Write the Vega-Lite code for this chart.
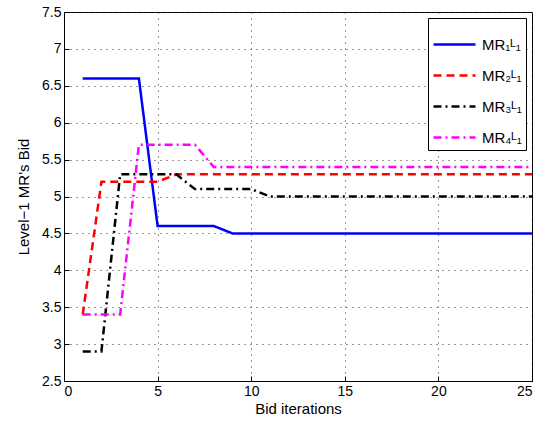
{
  "$schema": "https://vega.github.io/schema/vega-lite/v6.json",
  "width": 468,
  "height": 369,
  "autosize": {"type": "none"},
  "padding": {"left": 64, "top": 12, "right": 14, "bottom": 40},
  "background": "white",
  "config": {
    "font": "Liberation Sans",
    "view": {"stroke": "black", "strokeWidth": 1},
    "axis": {
      "labelFont": "Liberation Sans",
      "titleFont": "Liberation Sans",
      "labelFontSize": 14,
      "titleFontSize": 15,
      "labelColor": "black",
      "titleColor": "black",
      "titleFontWeight": "normal",
      "domainColor": "black",
      "tickColor": "black",
      "tickSize": -5,
      "labelPadding": 8,
      "grid": true,
      "gridColor": "#333",
      "gridDash": [1, 5],
      "gridWidth": 1
    },
    "legend": {
      "strokeColor": "black", "fillColor": "white", "padding": 4,
      "symbolType": "stroke", "symbolSize": 1764, "symbolStrokeWidth": 2.5,
      "labelFontSize": 15, "labelFont": "Liberation Sans", "labelColor": "black",
      "rowPadding": -4, "labelOffset": 5, "cornerRadius": 0, "offset": 6
    }
  },
  "data": {
    "values": [
      {"x": 1, "y": 6.6, "s": "MR₁ᴸ₁"}, {"x": 2, "y": 6.6, "s": "MR₁ᴸ₁"}, {"x": 3, "y": 6.6, "s": "MR₁ᴸ₁"}, {"x": 4, "y": 6.6, "s": "MR₁ᴸ₁"},
      {"x": 5, "y": 4.6, "s": "MR₁ᴸ₁"}, {"x": 6, "y": 4.6, "s": "MR₁ᴸ₁"}, {"x": 7, "y": 4.6, "s": "MR₁ᴸ₁"}, {"x": 8, "y": 4.6, "s": "MR₁ᴸ₁"},
      {"x": 9, "y": 4.5, "s": "MR₁ᴸ₁"}, {"x": 25, "y": 4.5, "s": "MR₁ᴸ₁"},
      {"x": 1, "y": 3.4, "s": "MR₂ᴸ₁"}, {"x": 2, "y": 5.2, "s": "MR₂ᴸ₁"}, {"x": 3, "y": 5.2, "s": "MR₂ᴸ₁"}, {"x": 4, "y": 5.2, "s": "MR₂ᴸ₁"},
      {"x": 5, "y": 5.2, "s": "MR₂ᴸ₁"}, {"x": 6, "y": 5.3, "s": "MR₂ᴸ₁"}, {"x": 25, "y": 5.3, "s": "MR₂ᴸ₁"},
      {"x": 1, "y": 2.9, "s": "MR₃ᴸ₁"}, {"x": 2, "y": 2.9, "s": "MR₃ᴸ₁"}, {"x": 3, "y": 5.3, "s": "MR₃ᴸ₁"}, {"x": 4, "y": 5.3, "s": "MR₃ᴸ₁"},
      {"x": 5, "y": 5.3, "s": "MR₃ᴸ₁"}, {"x": 6, "y": 5.3, "s": "MR₃ᴸ₁"}, {"x": 7, "y": 5.1, "s": "MR₃ᴸ₁"}, {"x": 8, "y": 5.1, "s": "MR₃ᴸ₁"},
      {"x": 9, "y": 5.1, "s": "MR₃ᴸ₁"}, {"x": 10, "y": 5.1, "s": "MR₃ᴸ₁"}, {"x": 11, "y": 5.0, "s": "MR₃ᴸ₁"}, {"x": 25, "y": 5.0, "s": "MR₃ᴸ₁"},
      {"x": 1, "y": 3.4, "s": "MR₄ᴸ₁"}, {"x": 2, "y": 3.4, "s": "MR₄ᴸ₁"}, {"x": 3, "y": 3.4, "s": "MR₄ᴸ₁"}, {"x": 4, "y": 5.7, "s": "MR₄ᴸ₁"},
      {"x": 5, "y": 5.7, "s": "MR₄ᴸ₁"}, {"x": 6, "y": 5.7, "s": "MR₄ᴸ₁"}, {"x": 7, "y": 5.7, "s": "MR₄ᴸ₁"}, {"x": 8, "y": 5.4, "s": "MR₄ᴸ₁"},
      {"x": 25, "y": 5.4, "s": "MR₄ᴸ₁"}
    ]
  },
  "mark": {"type": "line", "strokeWidth": 2.5, "clip": true},
  "encoding": {
    "x": {
      "field": "x", "type": "quantitative",
      "scale": {"domain": [0, 25], "nice": false, "zero": false},
      "axis": {"values": [0, 5, 10, 15, 20, 25], "title": "Bid iterations", "titlePadding": 3}
    },
    "y": {
      "field": "y", "type": "quantitative",
      "scale": {"domain": [2.5, 7.5], "nice": false, "zero": false},
      "axis": {"values": [2.5, 3, 3.5, 4, 4.5, 5, 5.5, 6, 6.5, 7, 7.5], "format": "~g", "title": "Level−1 MR's Bid", "titlePadding": 10}
    },
    "color": {
      "field": "s", "type": "nominal",
      "scale": {"domain": ["MR₁ᴸ₁", "MR₂ᴸ₁", "MR₃ᴸ₁", "MR₄ᴸ₁"], "range": ["#0000ff", "#ff0000", "#000000", "#ff00ff"]},
      "legend": {"title": null, "orient": "top-right"}
    },
    "strokeDash": {
      "field": "s", "type": "nominal",
      "scale": {"domain": ["MR₁ᴸ₁", "MR₂ᴸ₁", "MR₃ᴸ₁", "MR₄ᴸ₁"], "range": [[1, 0], [8, 5], [8, 4, 2, 4], [8, 4, 2, 4]]},
      "legend": {"title": null, "orient": "top-right"}
    }
  }
}
